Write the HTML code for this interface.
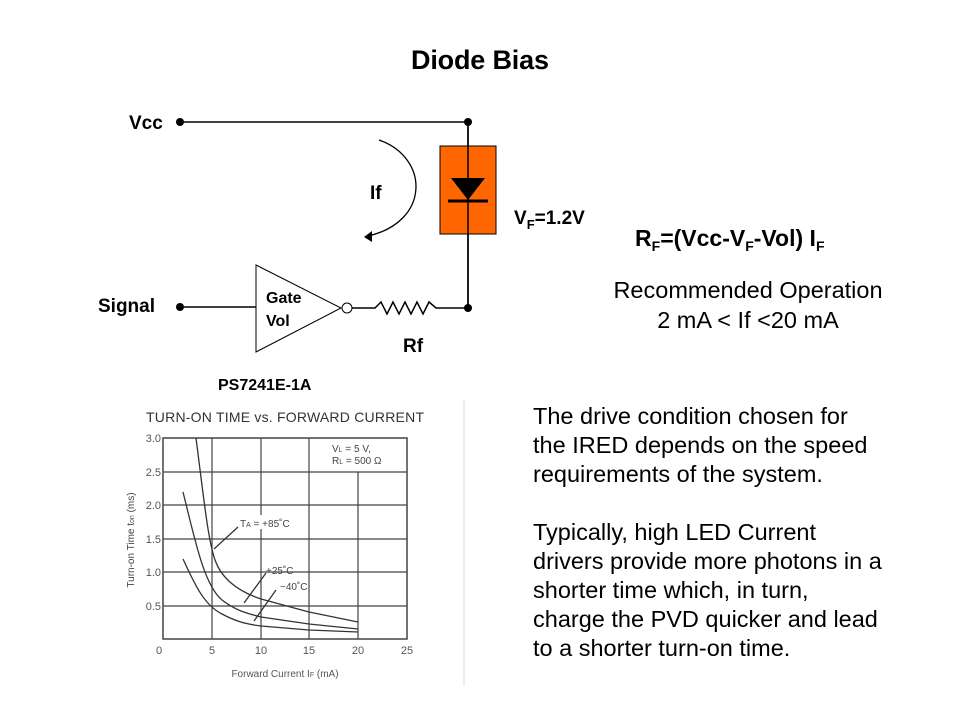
<!DOCTYPE html>
<html><head><meta charset="utf-8"><style>
body{margin:0;width:960px;height:720px;background:#fff;overflow:hidden}
svg{display:block}
</style></head><body>
<svg width="960" height="720" viewBox="0 0 960 720" font-family="Liberation Sans, Arial, sans-serif">
<text x="480" y="69" text-anchor="middle" font-size="27" font-weight="bold" textLength="138">Diode Bias</text>
<!-- circuit -->
<g stroke="#000" stroke-width="1.5" fill="none">
<line x1="180" y1="122" x2="468" y2="122"/>
<line x1="468" y1="122" x2="468" y2="308"/>
<line x1="180" y1="307" x2="256" y2="307"/>
<polygon points="256,265 341,308 256,352" stroke-width="1"/>
<circle cx="347" cy="308" r="5" stroke-width="1"/>
<polyline points="352,308 375,308 381,302 387,314 393,302 399,314 405,302 411,314 417,302 423,314 429,302 436,308 468,308"/>
<path d="M379,140 C430,158 430,222 368,236" stroke-width="1.3"/>
</g>
<polygon points="364,237 372,231 372,242" fill="#000"/>
<rect x="440" y="146" width="56" height="88" fill="#ff6600" stroke="#000" stroke-width="1"/>
<line x1="468" y1="122" x2="468" y2="308" stroke="#000" stroke-width="1.5"/>
<polygon points="451,178 485,178 468,200" fill="#000"/>
<line x1="448" y1="201" x2="488" y2="201" stroke="#000" stroke-width="3"/>
<g fill="#000">
<circle cx="180" cy="122" r="4"/><circle cx="468" cy="122" r="4"/>
<circle cx="180" cy="307" r="4"/><circle cx="468" cy="308" r="4"/>
</g>
<g font-size="19" font-weight="bold">
<text x="129" y="129">Vcc</text>
<text x="98" y="312">Signal</text>
<text x="370" y="199">If</text>
<text x="514" y="224">V<tspan font-size="13" dy="5">F</tspan><tspan dy="-5">=1.2V</tspan></text>
<text x="403" y="352">Rf</text>
<text x="266" y="303" font-size="16">Gate</text>
<text x="266" y="326" font-size="16">Vol</text>
<text x="218" y="390" font-size="16">PS7241E-1A</text>
<text x="635" y="246" font-size="23">R<tspan font-size="14" dy="5">F</tspan><tspan dy="-5">=(Vcc-V</tspan><tspan font-size="14" dy="5">F</tspan><tspan dy="-5">-Vol) I</tspan><tspan font-size="14" dy="5">F</tspan></text>
</g>
<g font-size="23.5" text-anchor="middle">
<text x="748" y="298">Recommended Operation</text>
<text x="748" y="328">2 mA &lt; If &lt;20 mA</text>
</g>
<g font-size="23.5">
<text x="533" y="424">The drive condition chosen for</text>
<text x="533" y="453">the IRED depends on the speed</text>
<text x="533" y="482">requirements of the system.</text>
<text x="533" y="540">Typically, high LED Current</text>
<text x="533" y="569">drivers provide more photons in a</text>
<text x="533" y="598">shorter time which, in turn,</text>
<text x="533" y="627">charge the PVD quicker and lead</text>
<text x="533" y="656">to a shorter turn-on time.</text>
</g>
<line x1="464" y1="400" x2="464" y2="686" stroke="#ddd" stroke-width="1"/>
<!-- graph -->
<text x="146" y="422" font-size="14" fill="#333" textLength="278">TURN-ON TIME vs. FORWARD CURRENT</text>
<g stroke="#444" stroke-width="1.2" fill="none">
<rect x="163" y="438" width="244" height="201" stroke-width="1.5"/>
<line x1="212" y1="438" x2="212" y2="639"/><line x1="261" y1="438" x2="261" y2="639"/>
<line x1="309" y1="438" x2="309" y2="639"/><line x1="358" y1="472" x2="358" y2="639"/>
<line x1="163" y1="472" x2="407" y2="472"/><line x1="163" y1="505" x2="407" y2="505"/>
<line x1="163" y1="539" x2="407" y2="539"/><line x1="163" y1="572" x2="407" y2="572"/>
<line x1="163" y1="606" x2="407" y2="606"/>
</g>
<rect x="330" y="440" width="60" height="28" fill="#fff"/>
<rect x="238" y="515" width="46" height="14" fill="#fff"/>
<g stroke="#333" stroke-width="1.3" fill="none">
<path d="M196,438 C204,500 208,540 215,560 C222,580 240,592 261,599 L309,612 L358,622"/>
<path d="M183,492 C195,540 204,585 222,600 C235,610 245,613 261,617 L309,624 L358,629"/>
<path d="M183,559 C195,585 204,605 222,614 C235,621 245,624 261,626 L309,630 L358,632"/>
<line x1="214" y1="549" x2="238" y2="527"/>
<line x1="244" y1="603" x2="266" y2="573"/>
<line x1="254" y1="621" x2="276" y2="590"/>
</g>
<g font-size="10" fill="#444">
<text x="240" y="527">T<tspan font-size="7">A</tspan> = +85˚C</text>
<text x="266" y="574">+25˚C</text>
<text x="280" y="590">−40˚C</text>
<text x="332" y="452">V<tspan font-size="7">L</tspan> = 5 V,</text>
<text x="332" y="464">R<tspan font-size="7">L</tspan> = 500 Ω</text>
</g>
<g font-size="11" fill="#555" text-anchor="end">
<text x="161" y="442">3.0</text><text x="161" y="476">2.5</text><text x="161" y="509">2.0</text>
<text x="161" y="543">1.5</text><text x="161" y="576">1.0</text><text x="161" y="610">0.5</text>
</g>
<g font-size="11" fill="#555" text-anchor="middle">
<text x="159" y="654">0</text><text x="212" y="654">5</text><text x="261" y="654">10</text>
<text x="309" y="654">15</text><text x="358" y="654">20</text><text x="407" y="654">25</text>
<text x="285" y="677" font-size="10">Forward Current  I<tspan font-size="7">F</tspan> (mA)</text>
</g>
<text transform="translate(134,540) rotate(-90)" font-size="10" fill="#444" text-anchor="middle">Turn-on Time  t<tspan font-size="7">on</tspan> (ms)</text>
</svg>
</body></html>
